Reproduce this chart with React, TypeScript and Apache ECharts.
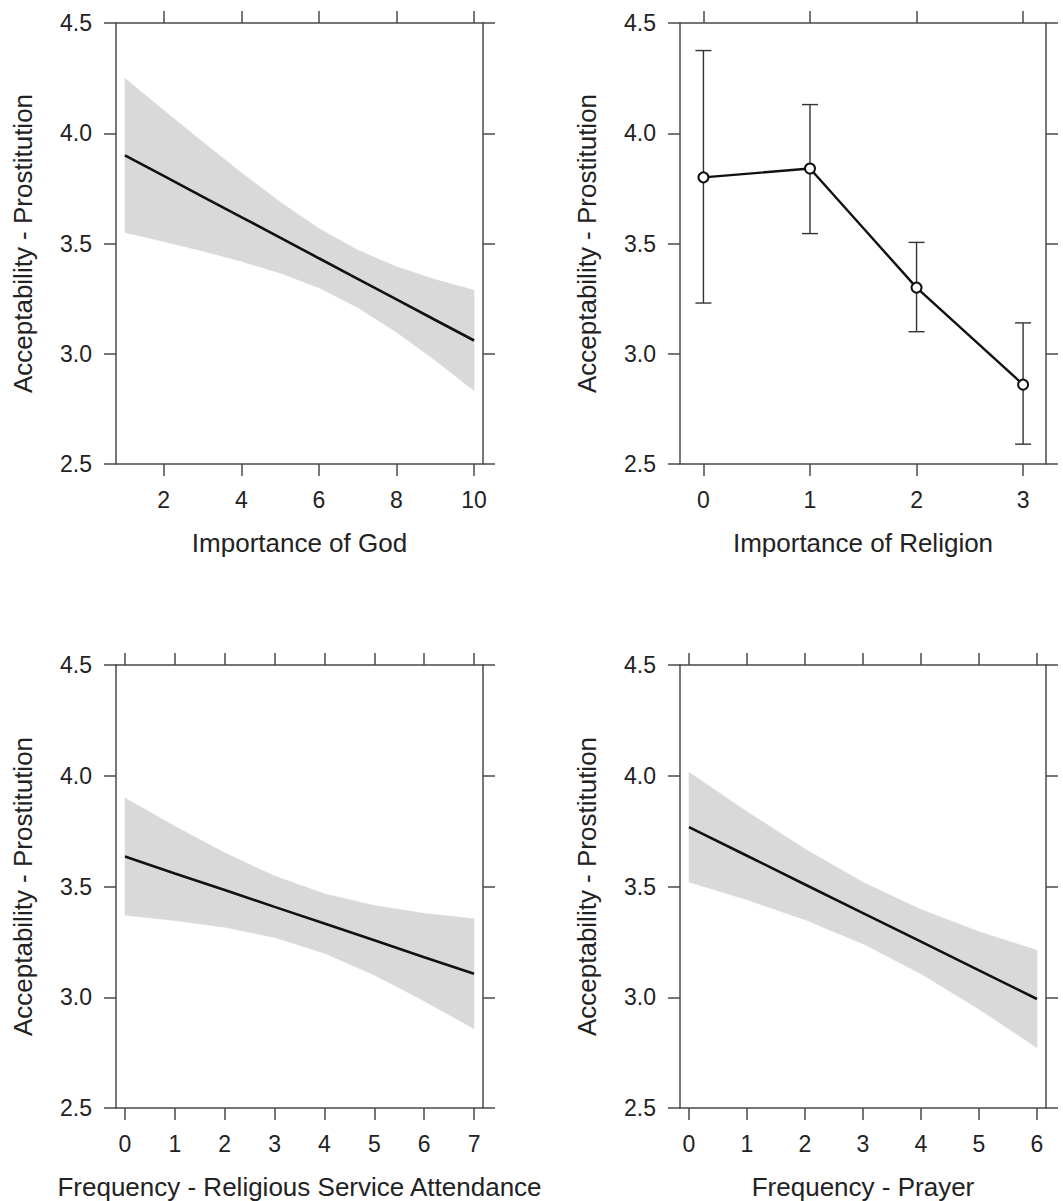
import React, { useEffect, useRef } from "react";
import * as echarts from "echarts";

// ---------- data ----------
// Panel 1: Importance of God (fit + 95% band)
const godX = [1, 2, 3, 4, 5, 6, 7, 8, 9, 10];
const godFit = [3.9, 3.807, 3.713, 3.62, 3.527, 3.433, 3.34, 3.247, 3.153, 3.06];
const godUpper = [4.25, 4.104, 3.961, 3.821, 3.688, 3.568, 3.47, 3.395, 3.337, 3.288];
const godLower = [3.55, 3.509, 3.466, 3.419, 3.366, 3.299, 3.21, 3.098, 2.97, 2.832];
const godTicks = [2, 4, 6, 8, 10];

// Panel 2: Importance of Religion (means + error bars)
const relX = [0, 1, 2, 3];
const relMean = [3.8, 3.84, 3.3, 2.86];
const relUpper = [4.375, 4.13, 3.505, 3.14];
const relLower = [3.23, 3.545, 3.1, 2.59];
const relTicks = [0, 1, 2, 3];

// Panel 3: Frequency - Religious Service Attendance
const attX = [0, 1, 2, 3, 4, 5, 6, 7];
const attFit = [3.635, 3.559, 3.484, 3.408, 3.333, 3.257, 3.181, 3.106];
const attUpper = [3.9, 3.772, 3.652, 3.547, 3.467, 3.414, 3.379, 3.354];
const attLower = [3.37, 3.346, 3.316, 3.27, 3.199, 3.1, 2.983, 2.858];
const attTicks = [0, 1, 2, 3, 4, 5, 6, 7];

// Panel 4: Frequency - Prayer
const prayX = [0, 1, 2, 3, 4, 5, 6];
const prayFit = [3.768, 3.639, 3.509, 3.38, 3.251, 3.121, 2.992];
const prayUpper = [4.016, 3.838, 3.669, 3.519, 3.396, 3.296, 3.212];
const prayLower = [3.52, 3.44, 3.35, 3.241, 3.106, 2.946, 2.772];
const prayTicks = [0, 1, 2, 3, 4, 5, 6];

const yTitle = "Acceptability - Prostitution";
const xTitles = [
  "Importance of God",
  "Importance of Religion",
  "Frequency - Religious Service Attendance",
  "Frequency - Prayer",
];
const yMin = 2.5;
const yMax = 4.5;
const yStep = 0.5;

// ---------- styling ----------
const FONT = "'Liberation Sans', Arial, Helvetica, sans-serif";
const AXIS_COLOR = "#4a4a4a";
const TEXT_COLOR = "#222";
const BAND_COLOR = "#d9d9d9";
const LINE_COLOR = "#111";

const grids = [
  { left: 116, top: 23, width: 367, height: 441 },
  { left: 680, top: 23, width: 366, height: 441 },
  { left: 116, top: 665, width: 367, height: 443 },
  { left: 680, top: 665, width: 366, height: 443 },
];

const xRanges = [
  [0.77, 10.23],
  [-0.22, 3.215],
  [-0.18, 7.18],
  [-0.155, 6.155],
];
const xTickSets = [godTicks, relTicks, attTicks, prayTicks];

function makeXAxes(i: number) {
  const [min, max] = xRanges[i];
  const ticks = xTickSets[i];
  const lineStyle = { color: AXIS_COLOR, width: 1.5 };
  const common = {
    type: "value",
    gridIndex: i,
    min,
    max,
    splitLine: { show: false },
    axisLine: { show: true, onZero: false, lineStyle },
    axisTick: { show: true, length: 12, customValues: ticks, lineStyle },
  };
  return [
    {
      ...common,
      position: "bottom",
      axisLabel: {
        show: true,
        customValues: ticks,
        fontSize: 23,
        color: TEXT_COLOR,
        fontFamily: FONT,
        margin: 24,
      },
      name: xTitles[i],
      nameLocation: "middle",
      nameGap: 66,
      nameTextStyle: { fontSize: 26, color: TEXT_COLOR, fontFamily: FONT },
    },
    {
      ...common,
      position: "top",
      axisLabel: { show: false },
    },
  ];
}

function makeYAxes(i: number) {
  const lineStyle = { color: AXIS_COLOR, width: 1.5 };
  const common = {
    type: "value",
    gridIndex: i,
    min: yMin,
    max: yMax,
    interval: yStep,
    splitLine: { show: false },
    axisLine: { show: true, onZero: false, lineStyle },
    axisTick: { show: true, length: 12, lineStyle },
  };
  return [
    {
      ...common,
      position: "left",
      axisLabel: {
        show: true,
        fontSize: 23,
        color: TEXT_COLOR,
        fontFamily: FONT,
        margin: 24,
        formatter: (v: number) => v.toFixed(1),
      },
      name: yTitle,
      nameLocation: "middle",
      nameGap: 80,
      nameTextStyle: { fontSize: 26, color: TEXT_COLOR, fontFamily: FONT },
    },
    {
      ...common,
      position: "right",
      axisLabel: { show: false },
    },
  ];
}

function bandSeries(i: number, xs: number[], fit: number[], lo: number[], hi: number[]) {
  const axisIdx = { xAxisIndex: 2 * i, yAxisIndex: 2 * i };
  return [
    {
      type: "custom",
      ...axisIdx,
      data: xs.map((x, k) => [x, lo[k], hi[k]]),
      encode: { x: 0, y: [1, 2] },
      renderItem: (params: any, api: any) => {
        if (params.dataIndex !== 0) return null;
        const upperPts = xs.map((x, k) => api.coord([x, hi[k]]));
        const lowerPts = xs.map((x, k) => api.coord([x, lo[k]])).reverse();
        return {
          type: "polygon",
          shape: { points: upperPts.concat(lowerPts) },
          style: { fill: BAND_COLOR, stroke: BAND_COLOR, lineWidth: 0.5 },
        };
      },
      silent: true,
      z: 1,
    },
    {
      type: "line",
      ...axisIdx,
      data: xs.map((x, k) => [x, fit[k]]),
      symbol: "none",
      lineStyle: { color: LINE_COLOR, width: 2.6 },
      silent: true,
      z: 3,
    },
  ];
}

function errorSeries(i: number) {
  return [
    {
      type: "custom",
      xAxisIndex: 2 * i,
      yAxisIndex: 2 * i,
      data: relX.map((x, k) => [x, relLower[k], relUpper[k]]),
      encode: { x: 0, y: [1, 2] },
      renderItem: (params: any, api: any) => {
        const x = api.value(0);
        const lo = api.coord([x, api.value(1)]);
        const hi = api.coord([x, api.value(2)]);
        const hw = 8;
        const style = { stroke: "#333", lineWidth: 1.4 };
        return {
          type: "group",
          children: [
            { type: "line", shape: { x1: lo[0], y1: lo[1], x2: hi[0], y2: hi[1] }, style },
            { type: "line", shape: { x1: hi[0] - hw, y1: hi[1], x2: hi[0] + hw, y2: hi[1] }, style },
            { type: "line", shape: { x1: lo[0] - hw, y1: lo[1], x2: lo[0] + hw, y2: lo[1] }, style },
          ],
        };
      },
      silent: true,
      z: 2,
    },
    {
      type: "line",
      xAxisIndex: 2 * i,
      yAxisIndex: 2 * i,
      data: relX.map((x, k) => [x, relMean[k]]),
      symbol: "emptyCircle",
      symbolSize: 10,
      itemStyle: { color: LINE_COLOR, borderColor: LINE_COLOR, borderWidth: 2.2 },
      lineStyle: { color: LINE_COLOR, width: 2.4 },
      silent: true,
      z: 3,
    },
  ];
}

export default function App() {
  const ref = useRef<HTMLDivElement>(null);

  useEffect(() => {
    if (!ref.current) return;
    const chart = echarts.init(ref.current, undefined, { renderer: "svg" });
    const xAxis: any[] = [];
    const yAxis: any[] = [];
    for (let i = 0; i < 4; i++) {
      xAxis.push(...makeXAxes(i));
      yAxis.push(...makeYAxes(i));
    }
    const series: any[] = [
      ...bandSeries(0, godX, godFit, godLower, godUpper),
      ...errorSeries(1),
      ...bandSeries(2, attX, attFit, attLower, attUpper),
      ...bandSeries(3, prayX, prayFit, prayLower, prayUpper),
    ];
    chart.setOption({
      animation: false,
      backgroundColor: "#ffffff",
      textStyle: { fontFamily: FONT },
      grid: grids.map((g) => ({ ...g, show: false, containLabel: false })),
      xAxis,
      yAxis,
      series,
    });
    return () => chart.dispose();
  }, []);

  return (
    <div
      ref={ref}
      style={{ position: "absolute", left: 0, top: 0, width: 1063, height: 1201, background: "#fff" }}
    />
  );
}
